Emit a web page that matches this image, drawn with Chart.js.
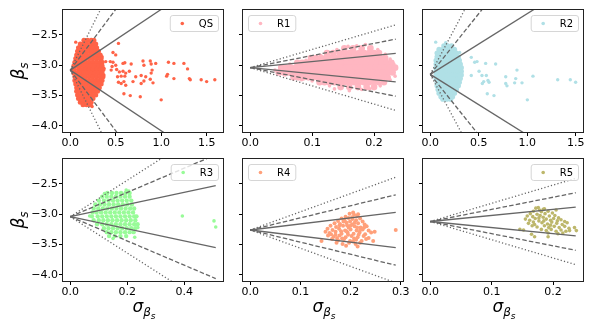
<!DOCTYPE html>
<html>
<head>
<meta charset="utf-8">
<script src="https://cdn.jsdelivr.net/npm/chart.js@4.4.1/dist/chart.umd.min.js"></script>
<style>
  body { margin: 0; background: #fff; }
  #wrap { position: relative; width: 598px; height: 327px; }
  #wrap canvas { position: absolute; }
</style>
</head>
<body>
<div id="wrap"></div>
<script>
// --- DATA ---
const panelNames = ["QS", "R1", "R2", "R3", "R4", "R5"];
const panelColors = ["#ff6347", "#ffb6c1", "#b0e0e6", "#98fb98", "#ffa07a", "#bdb76b"];
const legendSide = ["right", "left", "right", "right", "left", "right"];

// beta at sigma = 0 (apex of the funnel) and largest sigma of each sample
const centers = [-3.08, -3.04, -3.15, -3.04, -3.26, -3.12];
const maxSigma = [1.6, 0.235, 1.5, 0.51, 0.29, 0.237];
const slopes = [1, 2, 3];

const xTicks = [
  [0, 0.5, 1.0, 1.5],
  [0, 0.1, 0.2],
  [0, 0.5, 1.0, 1.5],
  [0, 0.2, 0.4],
  [0, 0.1, 0.2, 0.3],
  [0, 0.1, 0.2],
];
const yTicks = [-2.5, -3.0, -3.5, -4.0];
const yRange = [-4.1, -2.09];

// dense cores: [beta, [sigma, ...]] rows
const qsCore = [
  [-2.59, [0.15, 0.19, 0.23, 0.26]],
  [-2.65, [0.11, 0.14, 0.18, 0.22, 0.26, 0.28]],
  [-2.71, [0.09, 0.13, 0.17, 0.21, 0.25, 0.29]],
  [-2.77, [0.08, 0.12, 0.16, 0.20, 0.24, 0.28, 0.31]],
  [-2.83, [0.07, 0.10, 0.14, 0.18, 0.22, 0.26, 0.30, 0.33]],
  [-2.89, [0.06, 0.08, 0.12, 0.16, 0.20, 0.24, 0.28, 0.32, 0.34]],
  [-2.95, [0.05, 0.09, 0.13, 0.17, 0.21, 0.25, 0.29, 0.33, 0.35]],
  [-3.01, [0.04, 0.07, 0.11, 0.15, 0.19, 0.23, 0.27, 0.31, 0.35]],
  [-3.07, [0.04, 0.09, 0.13, 0.17, 0.21, 0.25, 0.29, 0.33, 0.36]],
  [-3.13, [0.04, 0.07, 0.11, 0.15, 0.19, 0.23, 0.27, 0.31, 0.35]],
  [-3.19, [0.05, 0.09, 0.13, 0.17, 0.21, 0.25, 0.29, 0.33, 0.36]],
  [-3.25, [0.05, 0.08, 0.12, 0.16, 0.20, 0.24, 0.28, 0.32, 0.35]],
  [-3.31, [0.06, 0.10, 0.14, 0.18, 0.22, 0.26, 0.30, 0.34]],
  [-3.37, [0.07, 0.12, 0.16, 0.20, 0.24, 0.28, 0.32]],
  [-3.43, [0.07, 0.10, 0.14, 0.18, 0.22, 0.26, 0.30]],
  [-3.49, [0.08, 0.12, 0.16, 0.20, 0.24, 0.28]],
  [-3.55, [0.09, 0.13, 0.17, 0.21, 0.25]],
  [-3.61, [0.11, 0.15, 0.19, 0.23]],
  [-3.65, [0.14, 0.18, 0.22]],
];
const qsStray = [
  [0.06, -2.62], [0.53, -2.64], [0.47, -2.79], [0.50, -2.83], [0.39, -2.94], [0.44, -2.94],
  [0.47, -2.95], [0.50, -3.00], [0.58, -2.97], [0.60, -2.96], [0.67, -2.98], [0.80, -2.93],
  [0.88, -2.93], [0.89, -2.98], [0.94, -2.97], [1.08, -2.95], [1.14, -2.97], [1.25, -2.97],
  [1.29, -3.06], [0.81, -3.00], [0.46, -3.02], [0.45, -3.08], [0.51, -3.07], [0.54, -3.11],
  [0.58, -3.10], [0.61, -3.13], [0.65, -3.10], [0.52, -3.19], [0.56, -3.18], [0.60, -3.18],
  [0.72, -3.19], [0.78, -3.17], [0.83, -3.19], [0.88, -3.23], [0.90, -3.08], [0.89, -3.13],
  [0.81, -3.26], [0.78, -3.30], [0.69, -3.27], [0.59, -3.27], [0.56, -3.30], [0.53, -3.28],
  [0.61, -3.33], [0.91, -3.29], [1.07, -3.15], [1.06, -3.18], [1.14, -3.22], [1.31, -3.22],
  [1.32, -3.24], [1.44, -3.24], [1.50, -3.27], [1.59, -3.24], [0.59, -3.47], [0.66, -3.50],
  [0.77, -3.52], [1.00, -3.57], [0.24, -3.68], [0.37, -3.05], [0.37, -3.16], [0.35, -2.86],
];

const r1Core = [
  [-2.72, [0.152, 0.166, 0.180, 0.194]],
  [-2.80, [0.124, 0.134, 0.144, 0.152, 0.160, 0.168, 0.176, 0.184, 0.192, 0.200, 0.208]],
  [-2.88, [0.098, 0.106, 0.114, 0.122, 0.130, 0.138, 0.146, 0.154, 0.162, 0.170, 0.178, 0.186, 0.194, 0.202, 0.210, 0.218]],
  [-2.96, [0.076, 0.084, 0.092, 0.100, 0.108, 0.116, 0.124, 0.132, 0.140, 0.148, 0.156, 0.164, 0.172, 0.180, 0.188, 0.196, 0.204, 0.212, 0.220, 0.228]],
  [-3.04, [0.050, 0.058, 0.066, 0.074, 0.082, 0.090, 0.098, 0.106, 0.114, 0.122, 0.130, 0.138, 0.146, 0.154, 0.162, 0.170, 0.178, 0.186, 0.194, 0.202, 0.210, 0.218, 0.226, 0.234]],
  [-3.12, [0.046, 0.054, 0.062, 0.070, 0.078, 0.086, 0.094, 0.102, 0.110, 0.118, 0.126, 0.134, 0.142, 0.150, 0.158, 0.166, 0.174, 0.182, 0.190, 0.198, 0.206, 0.214, 0.222, 0.230]],
  [-3.20, [0.070, 0.078, 0.086, 0.094, 0.102, 0.110, 0.118, 0.126, 0.134, 0.142, 0.150, 0.158, 0.166, 0.174, 0.182, 0.190, 0.198, 0.206, 0.214, 0.222]],
  [-3.28, [0.112, 0.120, 0.128, 0.136, 0.144, 0.152, 0.160, 0.168, 0.176, 0.184, 0.192, 0.200, 0.208, 0.216]],
  [-3.36, [0.146, 0.160, 0.174, 0.188, 0.200]],
];
const r1Stray = [
  [0.040, -3.08], [0.056, -3.16], [0.064, -2.98], [0.172, -2.68], [0.186, -2.66], [0.206, -2.74],
  [0.218, -2.82], [0.226, -2.90], [0.234, -3.18], [0.232, -2.98], [0.226, -3.24], [0.210, -3.34],
  [0.180, -3.40], [0.160, -3.42], [0.128, -3.34], [0.100, -3.26], [0.090, -2.92], [0.114, -2.84],
  [0.140, -2.74], [0.196, -2.70], [0.158, -2.69], [0.083, -3.24], [0.136, -3.39], [0.193, -3.39],
];

const r2Core = [
  [-2.68, [0.14, 0.18, 0.22]],
  [-2.74, [0.09, 0.13, 0.17, 0.21, 0.25]],
  [-2.80, [0.07, 0.11, 0.15, 0.19, 0.23, 0.27]],
  [-2.86, [0.07, 0.09, 0.13, 0.17, 0.21, 0.25, 0.29]],
  [-2.92, [0.06, 0.10, 0.14, 0.18, 0.22, 0.26, 0.30]],
  [-2.98, [0.06, 0.08, 0.12, 0.16, 0.20, 0.24, 0.28, 0.31]],
  [-3.04, [0.06, 0.10, 0.14, 0.18, 0.22, 0.26, 0.30, 0.32]],
  [-3.10, [0.06, 0.08, 0.12, 0.16, 0.20, 0.24, 0.28, 0.32]],
  [-3.16, [0.06, 0.10, 0.14, 0.18, 0.22, 0.26, 0.30, 0.32]],
  [-3.22, [0.06, 0.08, 0.12, 0.16, 0.20, 0.24, 0.28, 0.31]],
  [-3.28, [0.07, 0.10, 0.14, 0.18, 0.22, 0.26, 0.30]],
  [-3.34, [0.07, 0.09, 0.13, 0.17, 0.21, 0.25, 0.29]],
  [-3.40, [0.08, 0.12, 0.16, 0.20, 0.24, 0.27]],
  [-3.46, [0.09, 0.13, 0.17, 0.21, 0.25]],
  [-3.52, [0.11, 0.15, 0.19, 0.23]],
  [-3.56, [0.13, 0.17, 0.21]],
];
const r2Stray = [
  [0.056, -2.62], [0.159, -2.63], [0.269, -2.79], [0.303, -2.79], [0.423, -2.87], [0.458, -2.95],
  [0.482, -2.94], [0.571, -2.97], [0.674, -2.98], [0.423, -3.17], [0.503, -3.10], [0.533, -3.17],
  [0.578, -3.17], [0.551, -3.27], [0.537, -3.30], [0.595, -3.25], [0.606, -3.28], [0.778, -3.19],
  [0.894, -3.08], [0.881, -3.22], [0.778, -3.30], [0.791, -3.34], [0.870, -3.29], [0.946, -3.29],
  [1.059, -3.18], [0.588, -3.47], [0.657, -3.50], [1.001, -3.57], [1.314, -3.24], [1.444, -3.24],
  [1.499, -3.28],
];

const r3Core = [
  [-2.650, [0.130, 0.146, 0.162, 0.178, 0.194, 0.208]],
  [-2.710, [0.112, 0.128, 0.144, 0.160, 0.176, 0.192, 0.208]],
  [-2.775, [0.100, 0.118, 0.134, 0.150, 0.166, 0.182, 0.198, 0.214]],
  [-2.840, [0.088, 0.104, 0.120, 0.136, 0.152, 0.168, 0.184, 0.200, 0.216]],
  [-2.905, [0.082, 0.098, 0.114, 0.130, 0.146, 0.162, 0.178, 0.194, 0.210, 0.224]],
  [-2.970, [0.078, 0.092, 0.108, 0.124, 0.140, 0.156, 0.172, 0.188, 0.204, 0.220]],
  [-3.035, [0.076, 0.096, 0.112, 0.128, 0.144, 0.160, 0.176, 0.192, 0.208, 0.224, 0.232]],
  [-3.100, [0.082, 0.100, 0.116, 0.132, 0.148, 0.164, 0.180, 0.196, 0.212, 0.228]],
  [-3.165, [0.094, 0.112, 0.128, 0.144, 0.160, 0.176, 0.192, 0.208, 0.224, 0.236]],
  [-3.230, [0.118, 0.134, 0.150, 0.166, 0.182, 0.198, 0.214, 0.228]],
  [-3.295, [0.128, 0.144, 0.160, 0.176, 0.192, 0.208, 0.222]],
  [-3.360, [0.136, 0.156, 0.176, 0.196]],
];
const r3Stray = [
  [0.393, -3.03], [0.504, -3.11], [0.510, -3.21], [0.205, -2.62], [0.196, -2.60], [0.068, -3.03],
  [0.237, -3.22], [0.226, -3.38], [0.150, -3.40], [0.120, -2.66],
];

// sparser clouds, read point by point: [sigma, beta]
const r4Points = [
  [0.198, -2.99], [0.207, -3.01], [0.190, -3.04], [0.213, -3.03], [0.182, -3.07], [0.196, -3.06],
  [0.204, -3.08], [0.219, -3.07], [0.175, -3.11], [0.188, -3.10], [0.199, -3.12], [0.211, -3.10],
  [0.224, -3.12], [0.168, -3.15], [0.179, -3.16], [0.192, -3.14], [0.203, -3.17], [0.215, -3.15],
  [0.228, -3.17], [0.160, -3.19], [0.171, -3.21], [0.185, -3.19], [0.196, -3.22], [0.208, -3.20],
  [0.220, -3.22], [0.232, -3.20], [0.154, -3.24], [0.164, -3.26], [0.177, -3.24], [0.189, -3.27],
  [0.200, -3.25], [0.212, -3.27], [0.224, -3.25], [0.236, -3.27], [0.150, -3.29], [0.158, -3.31],
  [0.170, -3.29], [0.182, -3.32], [0.194, -3.30], [0.206, -3.32], [0.218, -3.30], [0.229, -3.33],
  [0.241, -3.30], [0.155, -3.35], [0.166, -3.37], [0.178, -3.35], [0.190, -3.38], [0.202, -3.36],
  [0.214, -3.38], [0.226, -3.36], [0.236, -3.39], [0.163, -3.41], [0.175, -3.43], [0.187, -3.41],
  [0.199, -3.44], [0.211, -3.42], [0.222, -3.44], [0.172, -3.47], [0.184, -3.49], [0.197, -3.47],
  [0.210, -3.49], [0.219, -3.47], [0.191, -3.52], [0.214, -3.53], [0.186, -3.12], [0.192, -3.28],
  [0.208, -3.14], [0.216, -3.34], [0.183, -3.40], [0.200, -3.19], [0.170, -3.34], [0.227, -3.22],
  [0.207, -3.40], [0.195, -3.34], [0.178, -3.18], [0.213, -3.22], [0.142, -3.44], [0.290, -3.26],
  [0.245, -3.44], [0.248, -3.29], [0.205, -2.97], [0.215, -3.00], [0.203, -3.05], [0.193, -3.18],
  [0.181, -3.28], [0.219, -3.26], [0.205, -3.45], [0.173, -3.39], [0.231, -3.41], [0.161, -3.33],
];

const r5Points = [
  [0.172, -2.90], [0.178, -2.93], [0.186, -2.91], [0.168, -2.95], [0.181, -2.96], [0.192, -2.95],
  [0.199, -2.98], [0.163, -2.99], [0.174, -3.00], [0.187, -2.99], [0.158, -3.03], [0.167, -3.04],
  [0.179, -3.02], [0.184, -3.05], [0.194, -3.03], [0.203, -3.02], [0.209, -3.06], [0.155, -3.08],
  [0.162, -3.10], [0.171, -3.07], [0.177, -3.11], [0.189, -3.08], [0.196, -3.10], [0.201, -3.07],
  [0.213, -3.09], [0.219, -3.12], [0.160, -3.15], [0.168, -3.13], [0.182, -3.14], [0.191, -3.16],
  [0.198, -3.13], [0.206, -3.15], [0.215, -3.17], [0.223, -3.14], [0.166, -3.19], [0.174, -3.21],
  [0.186, -3.19], [0.193, -3.22], [0.202, -3.20], [0.210, -3.22], [0.219, -3.20], [0.226, -3.23],
  [0.181, -3.25], [0.189, -3.27], [0.197, -3.25], [0.205, -3.28], [0.213, -3.26], [0.221, -3.28],
  [0.192, -3.31], [0.208, -3.32], [0.216, -3.31], [0.177, -3.06], [0.185, -3.11], [0.196, -3.18],
  [0.207, -3.11], [0.170, -3.17], [0.146, -3.25], [0.152, -3.26], [0.165, -3.33], [0.170, -3.37],
  [0.192, -3.37], [0.235, -3.22], [0.238, -3.27], [0.227, -3.27], [0.176, -2.89], [0.184, -2.92],
  [0.205, -2.93],
];

const coreRows = [qsCore, r1Core, r2Core, r3Core, [], []];
const strayPairs = [qsStray, r1Stray, r2Stray, r3Stray, r4Points, r5Points];
const coreRadius = [2.5, 3.3, 2.6, 2.2, 0, 0];
const strayRadius = [1.7, 1.8, 1.7, 1.8, 2.0, 1.8];

// --- HELPERS ---
function rowsToPoints(rows) {
  return rows.flatMap(([beta, sigmas]) => sigmas.map((s) => ({ x: s, y: beta })));
}

function pairsToPoints(pairs) {
  return pairs.map(([s, b]) => ({ x: s, y: b }));
}

function minusLabel(v) {
  const txt = Math.abs(v).toFixed(1);
  return v < 0 ? "\u2212" + txt : txt;
}

// draws a list of [text, fontSize, dy] pieces starting at x
function drawPieces(ctx, pieces, x, y) {
  pieces.forEach(([t, size, dy]) => {
    ctx.font = "italic " + size + "px 'DejaVu Sans'";
    ctx.fillText(t, x, y + dy);
    x += ctx.measureText(t).width;
  });
}

function piecesWidth(ctx, pieces) {
  return pieces.reduce((w, [t, size]) => {
    ctx.font = "italic " + size + "px 'DejaVu Sans'";
    return w + ctx.measureText(t).width;
  }, 0);
}

const lineDash = [[], [4.5, 2.2], [1.2, 2.2]];

const panelPlugin = {
  id: "panelDecor",
  afterDraw(chart) {
    const { ctx, chartArea: a } = chart;
    const p = chart.options.plugins.panelDecor;
    ctx.save();

    // frame on all four sides
    ctx.strokeStyle = "#222";
    ctx.lineWidth = 1;
    ctx.strokeRect(a.left - 0.5, a.top - 0.5, a.width + 1, a.height + 1);

    // legend
    ctx.font = "10px 'DejaVu Sans'";
    const tw = ctx.measureText(p.name).width;
    const w = 29 + tw + 5;
    const h = 16;
    const x = p.side === "left" ? a.left + 5 : a.right - 5 - w;
    const y = a.top + 5;
    ctx.beginPath();
    ctx.roundRect(x + 0.5, y + 0.5, w, h, 2.5);
    ctx.fillStyle = "rgba(255,255,255,0.8)";
    ctx.fill();
    ctx.strokeStyle = "#d6d6d6";
    ctx.stroke();
    ctx.beginPath();
    ctx.arc(x + 12.5, y + h / 2 + 0.5, 1.8, 0, Math.PI * 2);
    ctx.fillStyle = p.color;
    ctx.fill();
    ctx.fillStyle = "#000";
    ctx.textBaseline = "middle";
    ctx.fillText(p.name, x + 29, y + h / 2 + 1);

    // axis titles
    ctx.textBaseline = "alphabetic";
    if (p.yTitle) {
      const pieces = [["\u03b2", 17, 0], ["s", 12, 4]];
      const tw2 = piecesWidth(ctx, pieces);
      ctx.translate(19, a.top + a.height / 2);
      ctx.rotate(-Math.PI / 2);
      drawPieces(ctx, pieces, -tw2 / 2, 5);
      ctx.setTransform(1, 0, 0, 1, 0, 0);
    }
    if (p.xTitle) {
      const pieces = [["\u03c3", 17, 0], ["\u03b2", 12, 4], ["s", 9, 7]];
      const tw3 = piecesWidth(ctx, pieces);
      drawPieces(ctx, pieces, a.left + a.width / 2 + 1 - tw3 / 2, a.bottom + 31);
    }
    ctx.restore();
  },
};

// --- BUILD PANELS ---
function makePanel(i) {
  const col = i % 3;
  const row = Math.floor(i / 3);
  const canvas = document.createElement("canvas");
  canvas.width = 240;
  canvas.height = 178;
  canvas.style.left = col * 180 + "px";
  canvas.style.top = row * 149 + "px";
  document.getElementById("wrap").appendChild(canvas);

  const c = centers[i];
  const m = maxSigma[i];
  const datasets = [];
  slopes.forEach((k, j) => {
    [1, -1].forEach((sgn) => {
      datasets.push({
        type: "line",
        data: [{ x: 0, y: c }, { x: m, y: c + sgn * k * m }],
        borderColor: "#666666",
        borderWidth: 1.3,
        borderDash: lineDash[j],
        pointRadius: 0,
        fill: false,
      });
    });
  });
  datasets.push({
    label: panelNames[i],
    data: rowsToPoints(coreRows[i]),
    backgroundColor: panelColors[i],
    borderWidth: 0,
    pointRadius: coreRadius[i],
  });
  datasets.push({
    data: pairsToPoints(strayPairs[i]),
    backgroundColor: panelColors[i],
    borderWidth: 0,
    pointRadius: strayRadius[i],
  });

  const tickFont = { family: "'DejaVu Sans'", size: 11 };
  return new Chart(canvas.getContext("2d"), {
    type: "scatter",
    data: { datasets },
    options: {
      responsive: false,
      animation: false,
      events: [],
      layout: { padding: { left: 0, top: 10, right: 17, bottom: 0 } },
      plugins: {
        legend: { display: false },
        tooltip: { enabled: false },
        panelDecor: {
          name: panelNames[i],
          color: panelColors[i],
          side: legendSide[i],
          yTitle: col === 0,
          xTitle: row === 1,
        },
      },
      scales: {
        x: {
          type: "linear",
          min: -0.05 * m,
          max: 1.05 * m,
          afterFit: (s) => { s.height = 46; },
          afterBuildTicks: (s) => { s.ticks = xTicks[i].map((v) => ({ value: v })); },
          border: { display: false },
          grid: { drawOnChartArea: false, drawTicks: true, tickLength: 4, color: "#000", lineWidth: 1 },
          ticks: {
            color: "#000",
            font: tickFont,
            padding: 1,
            maxRotation: 0,
            autoSkip: false,
            callback: (v) => minusLabel(v),
          },
        },
        y: {
          type: "linear",
          min: yRange[0],
          max: yRange[1],
          afterFit: (s) => { s.width = 63; },
          afterBuildTicks: (s) => { s.ticks = yTicks.map((v) => ({ value: v })); },
          border: { display: false },
          grid: { drawOnChartArea: false, drawTicks: true, tickLength: 4, color: "#000", lineWidth: 1 },
          ticks: {
            color: "#000",
            font: tickFont,
            padding: 1,
            autoSkip: false,
            callback: (v) => (col === 0 ? minusLabel(v) : ""),
          },
        },
      },
    },
    plugins: [panelPlugin],
  });
}

window.addEventListener("DOMContentLoaded", () => {
  panelNames.forEach((name, i) => makePanel(i));
});
</script>
</body>
</html>
